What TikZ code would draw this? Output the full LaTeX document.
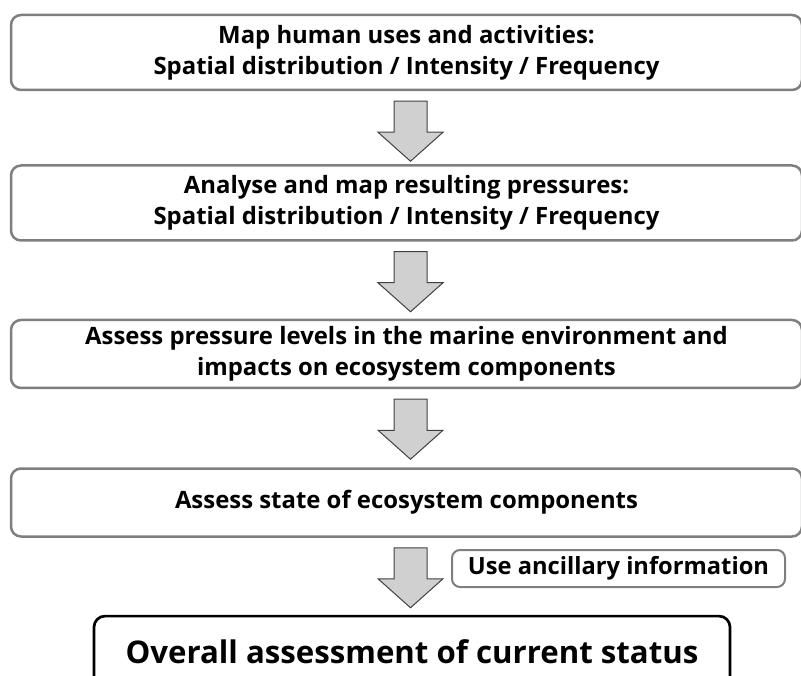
\documentclass[tikz,border=0pt]{standalone}
\usepackage{fontspec}
\setmainfont{Open Sans}
\usepackage{xcolor}
\usepackage{tikz}
\usetikzlibrary{positioning,calc}

\definecolor{boxgray}{HTML}{7F7F7F}
\definecolor{arrowgray}{HTML}{D0D0D0}
\definecolor{arrowline}{HTML}{404040}

\newcommand{\blockdown}[1]{%
  \draw[arrowbody] (#1) ++(-16.5,0) -- ++(33,0) -- ++(0,31) -- ++(16,0)
    -- ++(-32.5,29) -- ++(-32.5,-29) -- ++(16,0) -- cycle;}

\begin{document}
\begin{tikzpicture}[x=1pt, y=-1pt,
  stepbox/.style={draw=boxgray, line width=2.5pt, rounded corners=10pt, fill=white,
    minimum width=791pt, align=center, inner sep=0pt,
    font=\bfseries\fontsize{23.9}{31}\selectfont},
  notebox/.style={draw=boxgray, line width=2pt, rounded corners=8pt,
    minimum width=333pt, minimum height=37pt, inner sep=0pt,
    font=\bfseries\fontsize{23.7}{31}\selectfont},
  finalbox/.style={draw=black, line width=2.7pt, rounded corners=11pt,
    minimum width=636pt, minimum height=72pt, inner sep=0pt,
    font=\bfseries\fontsize{31.2}{38}\selectfont},
  arrowbody/.style={draw=arrowline, line width=1pt, fill=arrowgray, line join=miter}]

\useasboundingbox (0,0) rectangle (801,676);

% Steps
\node[stepbox, minimum height=75pt] (uses) at (406.5,52.5)
  {Map human uses and activities:\\Spatial distribution / Intensity / Frequency};
\node[stepbox, minimum height=75pt, below=73pt of uses] (press)
  {Analyse and map resulting pressures:\\Spatial distribution / Intensity / Frequency};
\node[stepbox, minimum height=68pt, below=77pt of press] (impact)
  {Assess pressure levels in the marine environment and\\impacts on ecosystem components};
\node[stepbox, minimum height=68pt, below=78pt of impact] (state)
  {Assess state of ecosystem components};

% Result
\node[finalbox, below=77pt of state, xshift=5.5pt] (overall)
  {Overall assessment of current status};
\node[notebox] (extra) at (618.5,568.5) {Use ancillary information};

% Arrows
\foreach \b in {uses,press,impact,state}
  {\blockdown{$(\b.south)+(4,10)$}}

\end{tikzpicture}
\end{document}
